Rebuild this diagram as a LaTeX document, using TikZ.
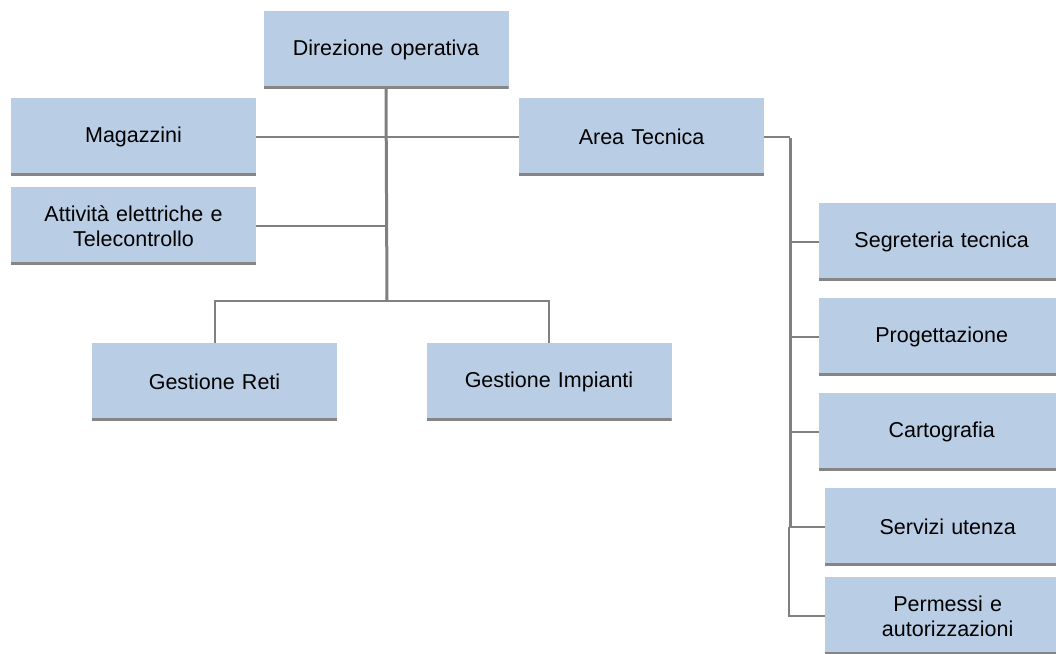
\documentclass[tikz,border=0pt]{standalone}
\usepackage{fontspec}
\setmainfont{Liberation Sans}
\definecolor{boxblue}{HTML}{B9CDE5}
\definecolor{shadowgray}{HTML}{858585}
\definecolor{linegray}{HTML}{808080}
\tikzset{
  orgbox/.style={fill=boxblue, minimum width=245pt, minimum height=78pt, inner sep=2pt,
    text width=240pt, align=center, font=\fontsize{21.5}{25}\selectfont,
    path picture={\fill[shadowgray] (path picture bounding box.south west) rectangle ([yshift=3pt]path picture bounding box.south east);}},
  trunk/.style={draw=linegray, line width=3pt},
  branch/.style={draw=linegray, line width=2pt},
}
\begin{document}
\begin{tikzpicture}[x=1pt,y=-1pt]
\useasboundingbox (0,0) rectangle (1056,653);
\node[orgbox] (dir) at (386,50) {Direzione operativa};
\node[orgbox] (mag) at (133.5,137) {Magazzini};
\node[orgbox] (att) at (133.5,226) {Attività elettriche e\\Telecontrollo};
\node[orgbox] (area) at (641.5,137) {Area Tecnica};
\node[orgbox] (gr) at (214.5,382) {Gestione Reti};
\node[orgbox] (gi) at (549,382) {Gestione Impianti};
\node[orgbox, anchor=west] (seg) at (819,241.5) {Segreteria tecnica};
\node[orgbox, anchor=west] (prog) at (819,336.5) {Progettazione};
\node[orgbox, anchor=west] (cart) at (819,431.5) {Cartografia};
\node[orgbox, anchor=west] (serv) at (825,526.5) {Servizi utenza};
\node[orgbox, anchor=west] (perm) at (825,616) {Permessi e\\autorizzazioni};
\coordinate (t1) at (387,301);
\coordinate (rx) at (790,0);
\draw[trunk] (dir.south) -- (t1);
\draw[branch] (mag.east) -- (area.west);
\draw[branch] (att.east) -- (att.east -| t1);
\draw[branch] (gr.north) |- (t1) -| (gi.north);
\draw[branch] (area.east) -- (area.east -| rx);
\draw[trunk] ([yshift=-1pt]area.east -| rx) -- (serv.west -| rx);
\draw[branch] ([xshift=-1pt]serv.west -| rx) |- (perm.west);
\draw[branch] (seg.west) -- (seg.west -| rx);
\draw[branch] (prog.west) -- (prog.west -| rx);
\draw[branch] (cart.west) -- (cart.west -| rx);
\draw[branch] (serv.west) -- (serv.west -| rx);
\end{tikzpicture}
\end{document}
